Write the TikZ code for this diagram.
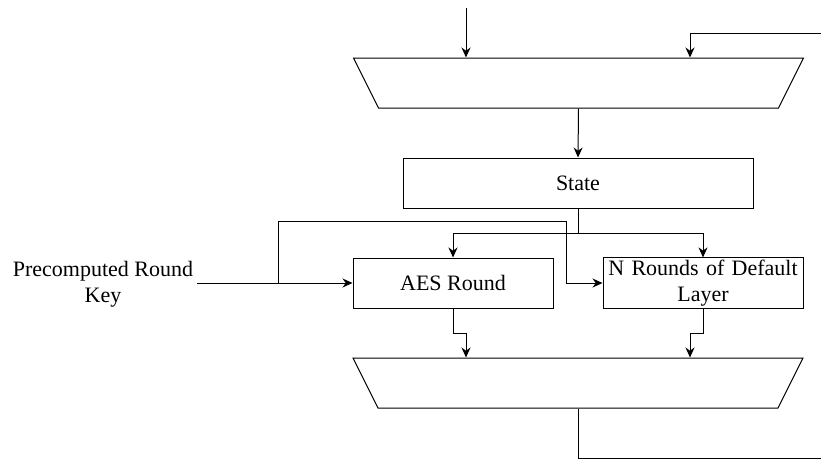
\documentclass[tikz,border=0pt]{standalone}
\usepackage{fontspec}
\setmainfont{Liberation Serif}
\usetikzlibrary{positioning, arrows.meta, shapes.geometric}

\begin{document}
\begin{tikzpicture}[x=1pt, y=-1pt, line width=1pt,
  every node/.style={font=\fontsize{22}{26}\selectfont},
  block/.style={draw, rectangle, minimum width=200pt, minimum height=50pt, inner sep=2pt, align=center},
  mux/.style={draw, trapezium, shape border rotate=180, trapezium angle=63.4,
    trapezium stretches body=true, inner xsep=0pt, inner ysep=25pt, minimum width=450pt},
  arr/.style={-{Stealth[length=10pt, width=9pt]}}]
\useasboundingbox (0,0) rectangle (821,459);
% blocks
\node[mux] (muxin) at (578.5,83) {};
\node[block, minimum width=350pt] (state) at (578,183) {State};
\node[block] (aes) at (453,283) {AES Round};
\node[block, text width=196pt] (def) at (703,283) {N Rounds of Default\\Layer};
\node[mux] (muxout) at (578,383) {};
\node[align=center] (key) at (103,284) {Precomputed Round\\Key};
% helper coordinates
\coordinate (lx) at (466,0);
\coordinate (rx) at (690,0);
\coordinate (datain) at (466,8);
\coordinate (fbin) at (821,33);
\coordinate (split) at (578,233);
\coordinate (keytap) at (278,283);
\coordinate (keyturn) at (566,221);
\coordinate (fbout) at (821,458);
% input side
\draw[arr] (datain) -- (muxin.north -| lx);
\draw[arr] (fbin) -| (muxin.north -| rx);
\draw[arr] (muxin.south) -- (state.north);
\draw (state.south) -- (split);
\draw[arr] (split) -| (aes.north);
\draw[arr] (split) -| (def.north);
% round key
\draw[arr] (key.east |- aes.west) -- (aes.west);
\draw[arr] (keytap) |- (keyturn) |- (def.west);
% output side
\draw[arr] (aes.south) -- ++(0,25) -| (muxout.north -| lx);
\draw[arr] (def.south) -- ++(0,25) -| (muxout.north -| rx);
\draw (muxout.south) |- (fbout);
\end{tikzpicture}
\end{document}
